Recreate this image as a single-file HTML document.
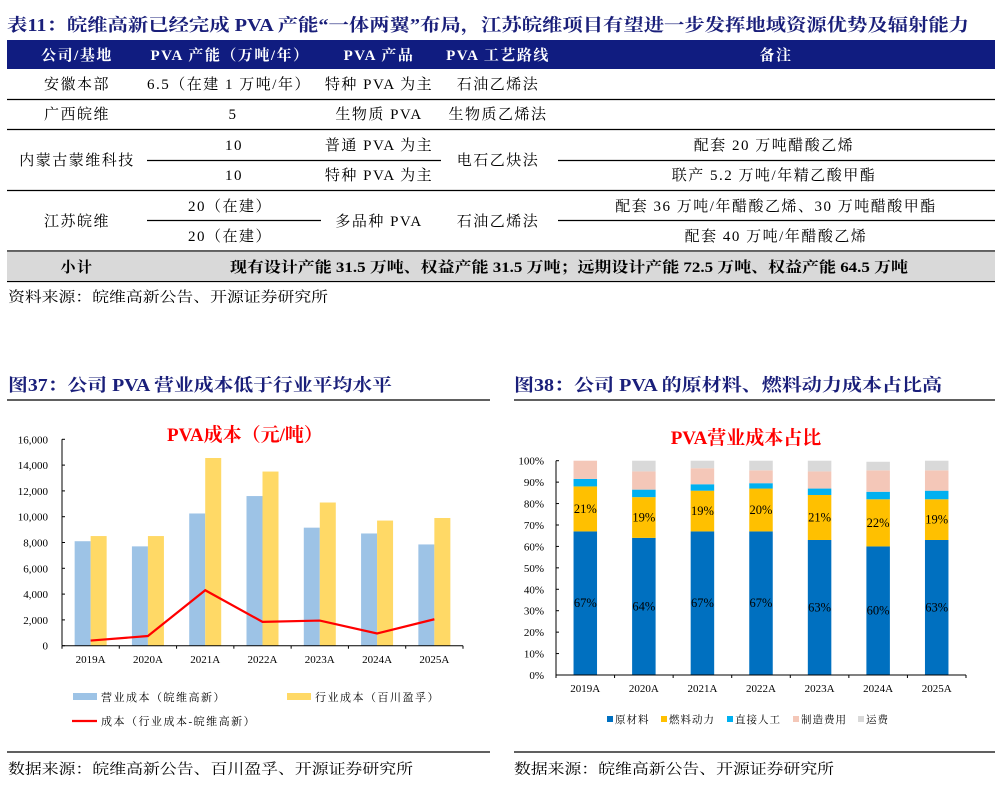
<!DOCTYPE html>
<html><head><meta charset="utf-8">
<style>
body{margin:0;background:#fff;}
svg{display:block;}
.s{font-family:"Liberation Serif","Noto Serif CJK SC",serif;}
</style></head>
<body>
<svg id="page" width="998" height="786" viewBox="0 0 998 786" xmlns="http://www.w3.org/2000/svg" class="s">
<!-- Table -->
<text x="7" y="31" font-size="17.5" font-weight="bold" fill="#1A1F7A" textLength="962" lengthAdjust="spacingAndGlyphs">表11：皖维高新已经完成 PVA 产能“一体两翼”布局，江苏皖维项目有望进一步发挥地域资源优势及辐射能力</text>
<rect x="7" y="40" width="988" height="29" fill="#101C80"/>
<g fill="#fff" font-size="15" font-weight="bold" text-anchor="middle" letter-spacing="1.5">
<text x="77" y="60">公司/基地</text><text x="230" y="60">PVA 产能（万吨/年）</text><text x="379" y="60">PVA 产品</text><text x="498" y="60">PVA 工艺路线</text><text x="776" y="60">备注</text>
</g>
<g stroke="#000" stroke-width="1.3">
<line x1="7" x2="995" y1="99.5" y2="99.5"/><line x1="7" x2="995" y1="129.5" y2="129.5"/>
<line x1="147" x2="441" y1="160.5" y2="160.5"/><line x1="558" x2="995" y1="160.5" y2="160.5"/>
<line x1="7" x2="995" y1="190.5" y2="190.5"/>
<line x1="147" x2="321" y1="220.5" y2="220.5"/><line x1="558" x2="995" y1="220.5" y2="220.5"/>
<line x1="7" x2="995" y1="251" y2="251"/><line x1="7" x2="995" y1="281.5" y2="281.5"/>
</g>
<rect x="7" y="251.7" width="988" height="29.2" fill="#D9D9D9"/>
<g font-size="15" text-anchor="middle" fill="#000" letter-spacing="1.5">
<text x="77" y="89">安徽本部</text><text x="229" y="89">6.5（在建 1 万吨/年）</text><text x="379" y="89">特种 PVA 为主</text><text x="498" y="89">石油乙烯法</text>
<text x="77" y="119">广西皖维</text><text x="233" y="119">5</text><text x="379" y="119">生物质 PVA</text><text x="498" y="119">生物质乙烯法</text>
<text x="77" y="165">内蒙古蒙维科技</text><text x="234" y="150">10</text><text x="234" y="180">10</text><text x="379" y="150">普通 PVA 为主</text><text x="379" y="180">特种 PVA 为主</text><text x="498" y="165">电石乙炔法</text>
<text x="774" y="150">配套 20 万吨醋酸乙烯</text><text x="774" y="180">联产 5.2 万吨/年精乙酸甲酯</text>
<text x="77" y="226">江苏皖维</text><text x="230" y="211">20（在建）</text><text x="230" y="241">20（在建）</text><text x="379" y="226">多品种 PVA</text><text x="498" y="226">石油乙烯法</text>
<text x="776" y="211">配套 36 万吨/年醋酸乙烯、30 万吨醋酸甲酯</text><text x="776" y="241">配套 40 万吨/年醋酸乙烯</text>
<text x="77" y="272" font-weight="bold">小计</text>
</g>
<text x="230" y="272" font-size="15" font-weight="bold" textLength="678" lengthAdjust="spacingAndGlyphs">现有设计产能 31.5 万吨、权益产能 31.5 万吨；远期设计产能 72.5 万吨、权益产能 64.5 万吨</text>
<text x="8" y="302" font-size="14.5" textLength="320" lengthAdjust="spacingAndGlyphs">资料来源：皖维高新公告、开源证券研究所</text>

<!-- Figure titles -->
<text x="8" y="391" font-size="17.5" font-weight="bold" fill="#1A1F7A" textLength="384" lengthAdjust="spacingAndGlyphs">图37：公司 PVA 营业成本低于行业平均水平</text>
<text x="514" y="391" font-size="17.5" font-weight="bold" fill="#1A1F7A" textLength="428" lengthAdjust="spacingAndGlyphs">图38：公司 PVA 的原材料、燃料动力成本占比高</text>
<line x1="7" x2="490" y1="400" y2="400" stroke="#000" stroke-width="1.2"/>
<line x1="514" x2="995" y1="400" y2="400" stroke="#000" stroke-width="1.2"/>
<line x1="7" x2="490" y1="752" y2="752" stroke="#000" stroke-width="1.2"/>
<line x1="514" x2="995" y1="752" y2="752" stroke="#000" stroke-width="1.2"/>
<text x="8" y="774" font-size="14.5" textLength="405" lengthAdjust="spacingAndGlyphs">数据来源：皖维高新公告、百川盈孚、开源证券研究所</text>
<text x="514" y="774" font-size="14.5" textLength="320" lengthAdjust="spacingAndGlyphs">数据来源：皖维高新公告、开源证券研究所</text>

<text x="245" y="441" font-size="19" font-weight="bold" fill="#FF0000" text-anchor="middle">PVA成本（元/吨）</text>
<text x="746" y="444" font-size="19" font-weight="bold" fill="#FF0000" text-anchor="middle">PVA营业成本占比</text>
<g id="c1"></g>
<g id="c2"></g>
</svg>
<script>
const years = ["2019A","2020A","2021A","2022A","2023A","2024A","2025A"];
const companyCost = [8100,7700,10250,11600,9150,8700,7850];
const industryCost = [8500,8500,14550,13500,11100,9700,9900];
const costGap = [400,750,4300,1850,1950,950,2050];
const yTicks1 = [0,2000,4000,6000,8000,10000,12000,14000,16000];

const rawMat = [67,64,67,67,63,60,63];
const fuel = [21,19,19,20,21,22,19];
const labor = [3.5,3.5,3,2.5,3,3.5,4];
const mfg = [8.5,8.5,7.5,6,8,10,9.5];
const freight = [0,5,3.5,4.5,5,4,4.5];
const rawLabels = ["67%","64%","67%","67%","63%","60%","63%"];
const fuelLabels = ["21%","19%","19%","20%","21%","22%","19%"];
const yTicks2 = [0,10,20,30,40,50,60,70,80,90,100];

const NS="http://www.w3.org/2000/svg";
function mk(p,tag,a,txt){const e=document.createElementNS(NS,tag);for(const k in a)e.setAttribute(k,a[k]);if(txt!==undefined)e.textContent=txt;p.appendChild(e);return e;}

// Chart 1
(function(){
const g=document.getElementById('c1');
const x0=62,x1=463,y0=645.7,yTop=439.3,max=16000;
const n=years.length,cw=(x1-x0)/n;
const y=v=>y0-(v/max)*(y0-yTop);
const xc=i=>x0+cw*(i+0.5);
yTicks1.forEach(t=>{
 const l=mk(g,'text',{x:48,y:y(t)+4,'font-size':11,'text-anchor':'end'},t.toLocaleString('en-US'));
 
 
});
years.forEach((yr,i)=>{
 const b=mk(g,'rect',{x:xc(i)-16,y:y(companyCost[i]),width:16,height:y0-y(companyCost[i]),fill:'#9DC3E6'});
 
 
 const b2=mk(g,'rect',{x:xc(i),y:y(industryCost[i]),width:16,height:y0-y(industryCost[i]),fill:'#FFD966'});
 
 
 const t=mk(g,'text',{x:xc(i),y:663,'font-size':11,'text-anchor':'middle'},yr);
 
 
});
mk(g,'line',{x1:x0,x2:x0,y1:yTop,y2:y0,stroke:'#000'});
mk(g,'line',{x1:x0,x2:x1,y1:y0,y2:y0,stroke:'#000'});
for(let i=0;i<=n;i++)mk(g,'line',{x1:x0+cw*i,x2:x0+cw*i,y1:y0,y2:y0+3,stroke:'#000'});
yTicks1.forEach(t=>mk(g,'line',{x1:x0,x2:x0+3,y1:y(t),y2:y(t),stroke:'#000'}));
const pl=mk(g,'polyline',{points:costGap.map((v,i)=>xc(i)+','+y(v)).join(' '),fill:'none',stroke:'#FF0000','stroke-width':2.2});


const l1=mk(g,'g',{});


mk(l1,'rect',{x:73,y:693,width:24,height:7,fill:'#9DC3E6'});
mk(l1,'text',{x:101,y:701,'font-size':11,'letter-spacing':1.5},'营业成本（皖维高新）');
const l2=mk(g,'g',{});


mk(l2,'rect',{x:287,y:693,width:24,height:7,fill:'#FFD966'});
mk(l2,'text',{x:315,y:701,'font-size':11,'letter-spacing':1.5},'行业成本（百川盈孚）');
const l3=mk(g,'g',{});


mk(l3,'line',{x1:72,x2:97,y1:721,y2:721,stroke:'#FF0000','stroke-width':2.2});
mk(l3,'text',{x:101,y:725,'font-size':11,'letter-spacing':1.5},'成本（行业成本-皖维高新）');
})();

// Chart 2
(function(){
const g=document.getElementById('c2');
const x0=556,x1=966,y0=675,yTop=460.7;
const n=years.length,cw=(x1-x0)/n,bw=23.5;
const y=v=>y0-(v/100)*(y0-yTop);
const xc=i=>x0+cw*(i+0.5);
yTicks2.forEach(t=>{
 const l=mk(g,'text',{x:544,y:y(t)+4,'font-size':11,'text-anchor':'end'},t+'%');
 
 
});
const series=[[rawMat,'#0070C0','raw'],[fuel,'#FFC000','fuel'],[labor,'#00B0F0','labor'],[mfg,'#F4C7B8','mfg'],[freight,'#D9D9D9','freight']];
years.forEach((yr,i)=>{
 let acc=0;
 series.forEach(s=>{
  const v=s[0][i];
  const r=mk(g,'rect',{x:xc(i)-bw/2,y:y(acc+v),width:bw,height:y(acc)-y(acc+v),fill:s[1]});
  
  
  acc+=v;
 });
 const a=mk(g,'text',{x:xc(i),y:y(rawMat[i]/2)+4,'font-size':12.5,'text-anchor':'middle'},rawLabels[i]);
 
 
 const b=mk(g,'text',{x:xc(i),y:y(rawMat[i]+fuel[i]/2)+4,'font-size':12.5,'text-anchor':'middle'},fuelLabels[i]);
 
 
 const t=mk(g,'text',{x:xc(i),y:692,'font-size':11,'text-anchor':'middle'},yr);
 
 
});
mk(g,'line',{x1:x0,x2:x0,y1:yTop,y2:y0,stroke:'#000'});
mk(g,'line',{x1:x0,x2:x1,y1:y0,y2:y0,stroke:'#000'});
for(let i=0;i<=n;i++)mk(g,'line',{x1:x0+cw*i,x2:x0+cw*i,y1:y0,y2:y0+3,stroke:'#000'});
yTicks2.forEach(t=>mk(g,'line',{x1:x0,x2:x0+3,y1:y(t),y2:y(t),stroke:'#000'}));
const names=['原材料','燃料动力','直接人工','制造费用','运费'];
const lx=[607,661,727,793,858];
series.forEach((s,k)=>{
 const lg=mk(g,'g',{});
 
 
 mk(lg,'rect',{x:lx[k],y:716,width:6,height:6,fill:s[1]});
 mk(lg,'text',{x:lx[k]+8,y:723,'font-size':10.5,'letter-spacing':1},names[k]);
});
})();
</script>
</body></html>
